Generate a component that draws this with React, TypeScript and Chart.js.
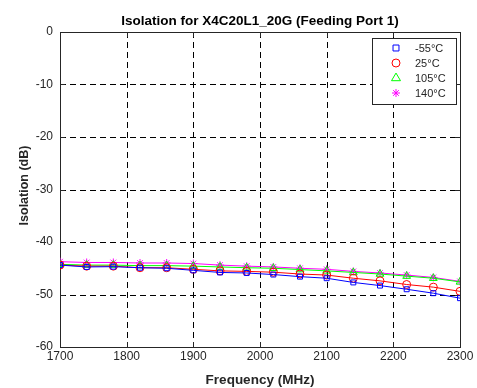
import React, { useEffect, useRef } from "react";
import { Chart, registerables } from "chart.js";

Chart.register(...registerables);

const frequencies = [1700, 1740, 1780, 1820, 1860, 1900, 1940, 1980, 2020, 2060, 2100, 2140, 2180, 2220, 2260, 2300];
const isoM55 = [-44.4, -44.75, -44.7, -44.9, -45.0, -45.4, -45.8, -45.9, -46.2, -46.6, -46.9, -47.7, -48.3, -49.0, -49.75, -50.7];
const iso25 = [-44.4, -44.6, -44.6, -44.9, -44.9, -45.2, -45.5, -45.6, -45.75, -46.1, -46.3, -46.9, -47.4, -48.1, -48.6, -49.4];
const iso105 = [-44.25, -44.4, -44.4, -44.5, -44.5, -44.6, -44.75, -44.9, -45.0, -45.25, -45.5, -45.8, -46.1, -46.5, -46.9, -47.6];
const iso140 = [-43.75, -43.9, -43.9, -44.0, -44.0, -44.1, -44.4, -44.6, -44.75, -45.0, -45.2, -45.6, -45.9, -46.3, -46.75, -47.5];
const seriesLabels = ["-55°C", "25°C", "105°C", "140°C"];
const xTicks = [1700, 1800, 1900, 2000, 2100, 2200, 2300];
const yTicks = [0, -10, -20, -30, -40, -50, -60];
const titleText = "Isolation for X4C20L1_20G (Feeding Port 1)";
const xTitle = "Frequency (MHz)";
const yTitle = "Isolation (dB)";

const FONT = "'Liberation Sans', Arial, sans-serif";
const TXT = "#262626";

function drawMarker(ctx: CanvasRenderingContext2D, style: string, r: number, x: number, y: number) {
  ctx.beginPath();
  if (style === "rect") {
    ctx.rect(x - r * 0.85, y - r * 0.85, r * 1.7, r * 1.7);
  } else if (style === "circle") {
    ctx.arc(x, y, r, 0, Math.PI * 2);
  } else if (style === "triangle") {
    ctx.moveTo(x, y - r * 1.1);
    ctx.lineTo(x + r, y + r * 0.6);
    ctx.lineTo(x - r, y + r * 0.6);
    ctx.closePath();
  } else {
    for (let k = 0; k < 4; k++) {
      const ang = (k * Math.PI) / 4;
      ctx.moveTo(x + Math.cos(ang) * r, y + Math.sin(ang) * r);
      ctx.lineTo(x - Math.cos(ang) * r, y - Math.sin(ang) * r);
    }
  }
  ctx.stroke();
}

const framePlugin = {
  id: "frame",
  beforeDatasetsDraw(chart: any) {
    const { ctx, chartArea: a, scales } = chart;
    const xs = scales.x, ys = scales.y;
    ctx.save();
    ctx.strokeStyle = "#000";
    ctx.lineWidth = 1;
    ctx.setLineDash([6, 4]);
    xTicks.slice(1, -1).forEach((v) => {
      const px = Math.round(xs.getPixelForValue(v)) + 0.5;
      ctx.beginPath();
      ctx.moveTo(px, a.top);
      ctx.lineTo(px, a.bottom);
      ctx.stroke();
    });
    yTicks.slice(1, -1).forEach((v) => {
      const py = Math.round(ys.getPixelForValue(v)) + 0.5;
      ctx.beginPath();
      ctx.moveTo(a.left, py);
      ctx.lineTo(a.right, py);
      ctx.stroke();
    });
    ctx.setLineDash([]);
    ctx.strokeStyle = TXT;
    const tl = 5;
    xTicks.forEach((v) => {
      const px = Math.round(xs.getPixelForValue(v)) + 0.5;
      ctx.beginPath();
      ctx.moveTo(px, a.top);
      ctx.lineTo(px, a.top + tl);
      ctx.moveTo(px, a.bottom);
      ctx.lineTo(px, a.bottom - tl);
      ctx.stroke();
    });
    yTicks.forEach((v) => {
      const py = Math.round(ys.getPixelForValue(v)) + 0.5;
      ctx.beginPath();
      ctx.moveTo(a.left, py);
      ctx.lineTo(a.left + tl, py);
      ctx.moveTo(a.right, py);
      ctx.lineTo(a.right - tl, py);
      ctx.stroke();
    });
    ctx.strokeRect(Math.round(a.left) + 0.5, Math.round(a.top) + 0.5, Math.round(a.right - a.left), Math.round(a.bottom - a.top));
    ctx.fillStyle = "#000";
    ctx.font = `bold 13.5px ${FONT}`;
    ctx.textAlign = "center";
    ctx.textBaseline = "middle";
    ctx.fillText(titleText, (a.left + a.right) / 2, 21);
    ctx.fillStyle = TXT;
    ctx.fillText(xTitle, (a.left + a.right) / 2, 380);
    ctx.font = `bold 12.5px ${FONT}`;
    ctx.save();
    ctx.translate(25, (a.top + a.bottom) / 2 - 4);
    ctx.rotate(-Math.PI / 2);
    ctx.fillText(yTitle, 0, 0);
    ctx.restore();
    ctx.restore();
  },
  afterDatasetsDraw(chart: any) {
    const { ctx } = chart;
    ctx.save();
    const bx = 372.5, by = 38.5, bw = 84, bh = 66;
    ctx.fillStyle = "#fff";
    ctx.fillRect(bx, by, bw, bh);
    ctx.strokeStyle = TXT;
    ctx.lineWidth = 1;
    ctx.strokeRect(bx, by, bw, bh);
    ctx.font = `11px ${FONT}`;
    ctx.textAlign = "left";
    ctx.textBaseline = "middle";
    chart.data.datasets.forEach((ds: any, i: number) => {
      const cy = 48 + i * 15;
      ctx.strokeStyle = ds.borderColor;
      ctx.lineWidth = 1;
      drawMarker(ctx, ds.pointStyle, ds.pointRadius, 396, cy);
      ctx.fillStyle = TXT;
      ctx.fillText(ds.label, 415, cy + 0.5);
    });
    ctx.restore();
  },
};

export default function App() {
  const ref = useRef<HTMLCanvasElement>(null);
  useEffect(() => {
    if (!ref.current) return;
    const mk = (label: string, data: number[], color: string, style: string, r: number) => ({
      label,
      data: frequencies.map((f, i) => ({ x: f, y: data[i] })),
      borderColor: color,
      backgroundColor: "transparent",
      pointBorderColor: color,
      pointBackgroundColor: "transparent",
      pointStyle: style,
      pointRadius: r,
      pointBorderWidth: 1,
      borderWidth: 1,
      tension: 0,
    });
    const chart = new Chart(ref.current, {
      type: "line",
      data: {
        datasets: [
          mk(seriesLabels[0], isoM55, "#0000ff", "rect", 3.5),
          mk(seriesLabels[1], iso25, "#ff0000", "circle", 4),
          mk(seriesLabels[2], iso105, "#00ff00", "triangle", 4.5),
          mk(seriesLabels[3], iso140, "#ff00ff", "star", 4),
        ],
      },
      options: {
        responsive: false,
        animation: false,
        layout: { padding: { left: 0, right: 17, top: 32, bottom: 0 } },
        plugins: { legend: { display: false }, title: { display: false }, tooltip: { enabled: false } },
        scales: {
          x: {
            type: "linear",
            min: 1700,
            max: 2300,
            afterFit: (s: any) => { s.height = 41; },
            afterBuildTicks: (s: any) => { s.ticks = xTicks.map((v) => ({ value: v })); },
            grid: { display: false, drawTicks: false, tickLength: 0 },
            border: { display: false },
            ticks: { color: TXT, font: { family: FONT, size: 12 }, padding: 2, maxRotation: 0, callback: (v: any) => String(v) },
          },
          y: {
            min: -60,
            max: 0,
            afterFit: (s: any) => { s.width = 60; },
            afterBuildTicks: (s: any) => { s.ticks = yTicks.map((v) => ({ value: v })); },
            grid: { display: false, drawTicks: false, tickLength: 0 },
            border: { display: false },
            ticks: { color: TXT, font: { family: FONT, size: 12 }, padding: 7, callback: (v: any) => String(v) },
          },
        },
      },
      plugins: [framePlugin],
    } as any);
    return () => chart.destroy();
  }, []);
  return (
    <div style={{ position: "fixed", left: 0, top: 0, width: 477, height: 388, background: "#fff" }}>
      <canvas ref={ref} width={477} height={388} style={{ width: 477, height: 388 }} />
    </div>
  );
}
